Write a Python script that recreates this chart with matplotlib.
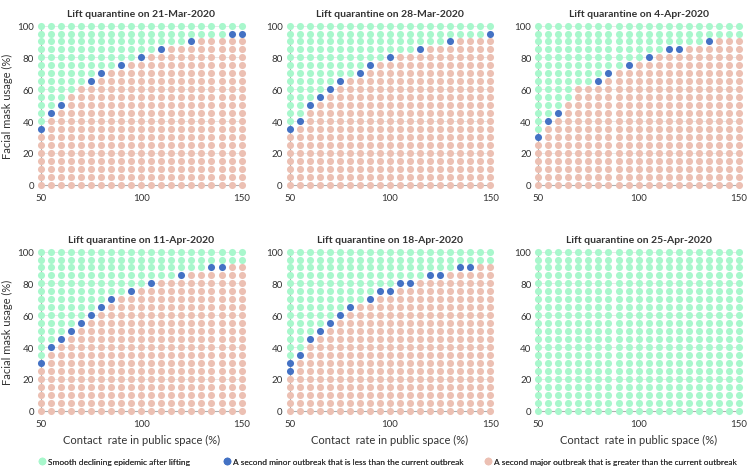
import numpy as np
import matplotlib
matplotlib.use("Agg")
import matplotlib.pyplot as plt
from matplotlib.lines import Line2D

plt.rcParams["font.family"] = ["Lato", "DejaVu Sans"]

# ---- grid of scenarios ----
CONTACT = [50, 55, 60, 65, 70, 75, 80, 85, 90, 95, 100,
           105, 110, 115, 120, 125, 130, 135, 140, 145, 150]
MASK = [0, 5, 10, 15, 20, 25, 30, 35, 40, 45, 50,
        55, 60, 65, 70, 75, 80, 85, 90, 95, 100]

TITLES = ["Lift quarantine on 21-Mar-2020", "Lift quarantine on 28-Mar-2020",
          "Lift quarantine on 4-Apr-2020", "Lift quarantine on 11-Apr-2020",
          "Lift quarantine on 18-Apr-2020", "Lift quarantine on 25-Apr-2020"]

# highest mask usage that still gives a major outbreak, per contact rate (-5 = none)
red_top_21mar = [30, 40, 45, 55, 60, 60, 65, 70, 70, 75, 75, 80, 80, 85, 85, 85, 90, 90, 90, 90, 90]
red_top_28mar = [30, 35, 45, 50, 55, 60, 65, 65, 70, 75, 75, 80, 80, 80, 85, 85, 85, 90, 90, 90, 90]
red_top_04apr = [25, 35, 40, 50, 60, 60, 60, 65, 70, 70, 75, 75, 80, 80, 80, 85, 85, 85, 90, 90, 90]
red_top_11apr = [25, 35, 40, 45, 50, 55, 60, 65, 70, 70, 75, 75, 80, 80, 80, 85, 85, 85, 85, 90, 90]
red_top_18apr = [20, 30, 40, 45, 50, 55, 60, 65, 65, 70, 70, 75, 75, 80, 80, 80, 85, 85, 85, 90, 90]
red_top_25apr = [-5] * 21

# minor-outbreak scenarios as (contact, mask)
blue_21mar = [(50, 35), (55, 45), (60, 50), (75, 65), (80, 70), (90, 75),
              (100, 80), (110, 85), (125, 90), (145, 95), (150, 95)]
blue_28mar = [(50, 35), (55, 40), (60, 50), (65, 55), (70, 60), (75, 65),
              (85, 70), (90, 75), (100, 80), (115, 85), (130, 90), (150, 95)]
blue_04apr = [(50, 30), (55, 40), (60, 45), (80, 65), (85, 70), (95, 75),
              (105, 80), (115, 85), (120, 85), (135, 90)]
blue_11apr = [(50, 30), (55, 40), (60, 45), (65, 50), (70, 55), (75, 60), (80, 65),
              (85, 70), (95, 75), (105, 80), (120, 85), (135, 90), (140, 90)]
blue_18apr = [(50, 25), (50, 30), (55, 35), (60, 45), (65, 50), (70, 55), (75, 60),
              (80, 65), (90, 70), (95, 75), (100, 75), (105, 80), (110, 80),
              (120, 85), (125, 85), (135, 90), (140, 90)]
blue_25apr = []

RED_TOPS = [red_top_21mar, red_top_28mar, red_top_04apr,
            red_top_11apr, red_top_18apr, red_top_25apr]
BLUES = [blue_21mar, blue_28mar, blue_04apr, blue_11apr, blue_18apr, blue_25apr]

GREEN = "#a8f7cc"
BLUE = "#4472c4"
SALMON = "#ecc0b3"
TXT = "#333333"

LEGEND_LABELS = ["Smooth declining epidemic after lifting",
                 "A second minor outbreak that is less than the current outbreak",
                 "A second major outbreak that is greater than the current outbreak"]

fig = plt.figure(figsize=(7.47, 4.77), dpi=100)

lefts = [0.0549, 0.3878, 0.7206]
bottoms = [0.6107, 0.1369]
W, H = 0.2685, 0.3336

for i in range(6):
    r, c = divmod(i, 3)
    ax = fig.add_axes([lefts[c], bottoms[r], W, H])
    red_top = RED_TOPS[i]
    blues = set(BLUES[i])
    pts = {"g": ([], []), "b": ([], []), "r": ([], [])}
    for x, top in zip(CONTACT, red_top):
        for y in MASK:
            if y <= top:
                k = "r"
            elif (x, y) in blues:
                k = "b"
            else:
                k = "g"
            pts[k][0].append(x)
            pts[k][1].append(y)
    for k, col in (("g", GREEN), ("r", SALMON), ("b", BLUE)):
        ax.scatter(pts[k][0], pts[k][1], s=26, color=col, lw=0,
                   clip_on=False, zorder=3)

    ax.set_xlim(50, 150)
    ax.set_ylim(0, 100)
    ax.set_xticks([50, 100, 150])
    ax.set_yticks([0, 20, 40, 60, 80, 100])
    ax.grid(True, color="#e4e4e4", lw=0.6, zorder=0)
    ax.set_axisbelow(True)
    for s in ("top", "right"):
        ax.spines[s].set_visible(False)
    for s in ("left", "bottom"):
        ax.spines[s].set_color("#b0b0b0")
        ax.spines[s].set_linewidth(0.8)
    ax.tick_params(length=0, labelsize=7, colors=TXT)
    ax.tick_params(axis="x", pad=6)
    ax.tick_params(axis="y", pad=5)
    ax.set_title(TITLES[i], fontsize=7.5, fontweight="bold", color=TXT, pad=7)
    if c == 0:
        ax.set_ylabel("Facial mask usage (%)", fontsize=8, color=TXT, labelpad=3)
    if r == 1:
        ax.set_xlabel("Contact  rate in public space (%)", fontsize=8,
                      color=TXT, labelpad=4)

# one legend per entry so each can sit where the original has it
legend_x = [0.052, 0.300, 0.649]
for col, lab, lx in zip((GREEN, BLUE, SALMON), LEGEND_LABELS, legend_x):
    h = Line2D([], [], ls="", marker="o", ms=5.5, mec="none", color=col)
    leg = fig.legend([h], [lab], loc="center left", bbox_to_anchor=(lx, 0.03),
                     frameon=False, fontsize=6, handlelength=0.8,
                     handletextpad=0.3, borderpad=0, borderaxespad=0,
                     labelcolor=TXT)
    fig.add_artist(leg)

fig.savefig("out.png", dpi=100)
